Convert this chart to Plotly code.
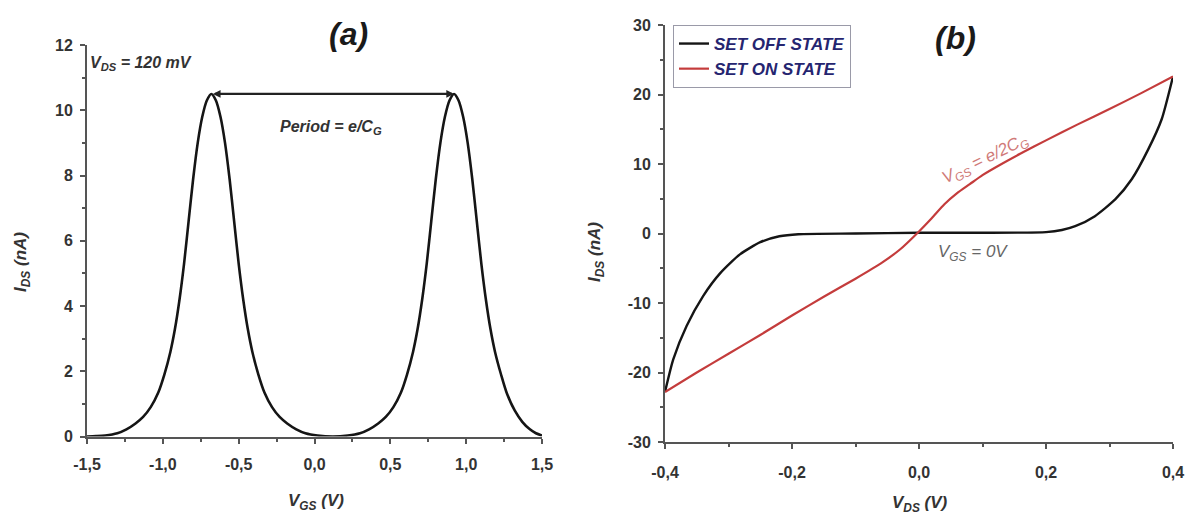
import plotly.graph_objects as go

# ---------------- Panel (a): I_DS vs V_GS (Coulomb oscillations) ----------------
vgs_a = [-1.50, -1.44, -1.38, -1.30, -1.24, -1.18, -1.13, -1.08, -1.03, -0.99, -0.95,
         -0.92, -0.89, -0.86, -0.83, -0.80, -0.77, -0.74, -0.71, -0.68, -0.65, -0.62,
         -0.59, -0.56, -0.53, -0.50, -0.47, -0.44, -0.41, -0.37, -0.33, -0.28, -0.23,
         -0.18, -0.12, -0.06, 0.02, 0.12, 0.22, 0.30, 0.36, 0.42, 0.47, 0.52, 0.57,
         0.61, 0.65, 0.68, 0.71, 0.74, 0.77, 0.80, 0.83, 0.86, 0.89, 0.92, 0.95, 0.98,
         1.01, 1.04, 1.07, 1.10, 1.13, 1.16, 1.19, 1.23, 1.27, 1.32, 1.37, 1.42, 1.46, 1.50]
ids_a = [0.0, 0.01, 0.03, 0.1, 0.22, 0.4, 0.6, 0.9, 1.35, 1.9, 2.6,
         3.3, 4.2, 5.3, 6.6, 7.9, 9.0, 9.8, 10.3, 10.5, 10.3, 9.8,
         9.0, 7.9, 6.6, 5.3, 4.2, 3.3, 2.6, 1.9, 1.35, 0.9, 0.6,
         0.4, 0.22, 0.1, 0.03, 0.0, 0.03, 0.1, 0.22, 0.4, 0.6, 0.9, 1.35,
         1.9, 2.6, 3.3, 4.2, 5.3, 6.6, 7.9, 9.0, 9.8, 10.3, 10.5, 10.3, 9.8,
         9.0, 7.9, 6.6, 5.3, 4.2, 3.3, 2.6, 1.9, 1.3, 0.8, 0.45, 0.22, 0.1, 0.03]

peak_left = -0.68
peak_right = 0.92
peak_level = 10.5

xa_tickvals = [-1.5, -1.0, -0.5, 0.0, 0.5, 1.0, 1.5]
xa_ticktext = ["-1,5", "-1,0", "-0,5", "0,0", "0,5", "1,0", "1,5"]
ya_tickvals = [0, 2, 4, 6, 8, 10, 12]
ya_ticktext = ["0", "2", "4", "6", "8", "10", "12"]

# ---------------- Panel (b): I_DS vs V_DS ----------------
vds_off = [-0.400, -0.387, -0.366, -0.340, -0.313, -0.282, -0.250, -0.220, -0.190,
           -0.10, 0.0, 0.10, 0.20, 0.225, 0.246, 0.277, 0.309, 0.335, 0.361, 0.382, 0.400]
ids_off = [-22.8, -18.1, -13.3, -9.0, -5.7, -3.0, -1.25, -0.4, -0.1,
           0.0, 0.1, 0.1, 0.2, 0.5, 1.05, 2.5, 4.9, 7.8, 12.1, 16.4, 22.6]

vds_on = [-0.40, -0.35, -0.30, -0.25, -0.20, -0.15, -0.10, -0.06, -0.03, 0.00,
          0.02, 0.04, 0.06, 0.08, 0.10, 0.13, 0.16, 0.20, 0.25, 0.30, 0.35, 0.40]
ids_on = [-22.8, -20.0, -17.3, -14.6, -11.8, -9.1, -6.5, -4.3, -2.3, 0.3,
          2.2, 4.2, 5.8, 7.1, 8.4, 10.0, 11.5, 13.4, 15.7, 17.9, 20.2, 22.6]

xb_tickvals = [-0.4, -0.2, 0.0, 0.2, 0.4]
xb_ticktext = ["-0,4", "-0,2", "0,0", "0,2", "0,4"]
yb_tickvals = [-30, -20, -10, 0, 10, 20, 30]
yb_ticktext = ["-30", "-20", "-10", "0", "10", "20", "30"]

series_names = ["SET OFF STATE", "SET ON STATE"]

# ---------------- Figure ----------------
W, H = 1188, 516
FONT = "Liberation Sans, Arial, sans-serif"
AXC = "#555555"
TXT = "#333333"

fig = go.Figure()

fig.add_trace(go.Scatter(x=vgs_a, y=ids_a, mode="lines",
                         line=dict(color="#151515", width=2.6, shape="spline", smoothing=0.8),
                         showlegend=False, xaxis="x", yaxis="y"))
fig.add_trace(go.Scatter(x=vds_off, y=ids_off, mode="lines", name=series_names[0],
                         line=dict(color="#151515", width=2.4, shape="spline", smoothing=0.6),
                         xaxis="x2", yaxis="y2"))
fig.add_trace(go.Scatter(x=vds_on, y=ids_on, mode="lines", name=series_names[1],
                         line=dict(color="#c43c3c", width=2.2, shape="spline", smoothing=0.6),
                         xaxis="x2", yaxis="y2"))


def axis(dom, rng, tv, tt, anchor, minor_dtick, standoff):
    return dict(domain=dom, range=rng, tickvals=tv, ticktext=tt, anchor=anchor,
                automargin=False,
                showgrid=False, zeroline=False, showline=True, linecolor=AXC, linewidth=2,
                ticks="outside", ticklen=5, tickwidth=2, tickcolor=AXC,
                ticklabelstandoff=standoff,
                minor=dict(dtick=minor_dtick, ticks="outside", ticklen=3, tickwidth=1.5,
                           tickcolor=AXC, showgrid=False),
                tickfont=dict(family=FONT, size=16, color=TXT, weight="bold"),
                fixedrange=True)


xa_dom = [87 / W, 542 / W]
ya_dom = [1 - 436.5 / H, 1 - 45 / H]
xb_dom = [665 / W, 1173 / W]
yb_dom = [1 - 442 / H, 1 - 25 / H]

fig.update_layout(
    width=W, height=H, margin=dict(l=0, r=0, t=0, b=0, autoexpand=False),
    paper_bgcolor="white", plot_bgcolor="white",
    xaxis=axis(xa_dom, [-1.5, 1.5], xa_tickvals, xa_ticktext, "y", 0.25, 7),
    yaxis=axis(ya_dom, [0, 12], ya_tickvals, ya_ticktext, "x", 1, 4),
    xaxis2=axis(xb_dom, [-0.4, 0.4], xb_tickvals, xb_ticktext, "y2", 0.1, 10),
    yaxis2=axis(yb_dom, [-30, 30], yb_tickvals, yb_ticktext, "x2", 5, 4),
    legend=dict(x=673 / W, y=1 - 25 / H, xanchor="left", yanchor="top",
                bordercolor="#9a9aa8", borderwidth=1, bgcolor="white",
                font=dict(family=FONT, size=17, color="#252570", style="italic", weight="bold"),
                tracegroupgap=0, itemwidth=30),
    showlegend=True,
)


def txt(text, x, y, size=14, color=TXT, angle=0, italic=True, weight="bold", xanchor="center"):
    fig.add_annotation(text=text, x=x / W, y=1 - y / H, xref="paper", yref="paper",
                       showarrow=False, textangle=angle, xanchor=xanchor, yanchor="middle",
                       font=dict(family=FONT, size=size, color=color,
                                 style="italic" if italic else "normal", weight=weight))


# panel titles
txt("(a)", 348, 34, size=32, color="#1a1a1a")
txt("(b)", 955, 38, size=32, color="#1a1a1a")

# axis titles
txt("I<sub>DS</sub> (nA)", 22, 262, size=17, angle=-90)
txt("V<sub>GS</sub> (V)", 316, 502, size=17)
txt("I<sub>DS</sub> (nA)", 596, 252, size=17, angle=-90)
txt("V<sub>DS</sub> (V)", 920, 504, size=17)

# panel (a) annotations
txt("V<sub>DS</sub> = 120 mV", 88, 63, size=16, xanchor="left")
txt("Period = e/C<sub>G</sub>", 278, 127, size=16, xanchor="left")
fig.add_annotation(x=peak_right, y=peak_level, ax=peak_left, ay=peak_level,
                   xref="x", yref="y", axref="x", ayref="y", text="",
                   showarrow=True, arrowhead=2, startarrowhead=2, arrowside="end+start",
                   arrowsize=0.7, arrowwidth=2.2, arrowcolor="#222222")

# panel (b) annotations
txt("V<sub>GS</sub> = e/2C<sub>G</sub>", 985, 160, size=17, color="#d07a78", angle=-26, weight="normal")
txt("V<sub>GS</sub> = 0V", 973, 253, size=17, color="#666666", weight="normal")

fig.write_html("out.html")
